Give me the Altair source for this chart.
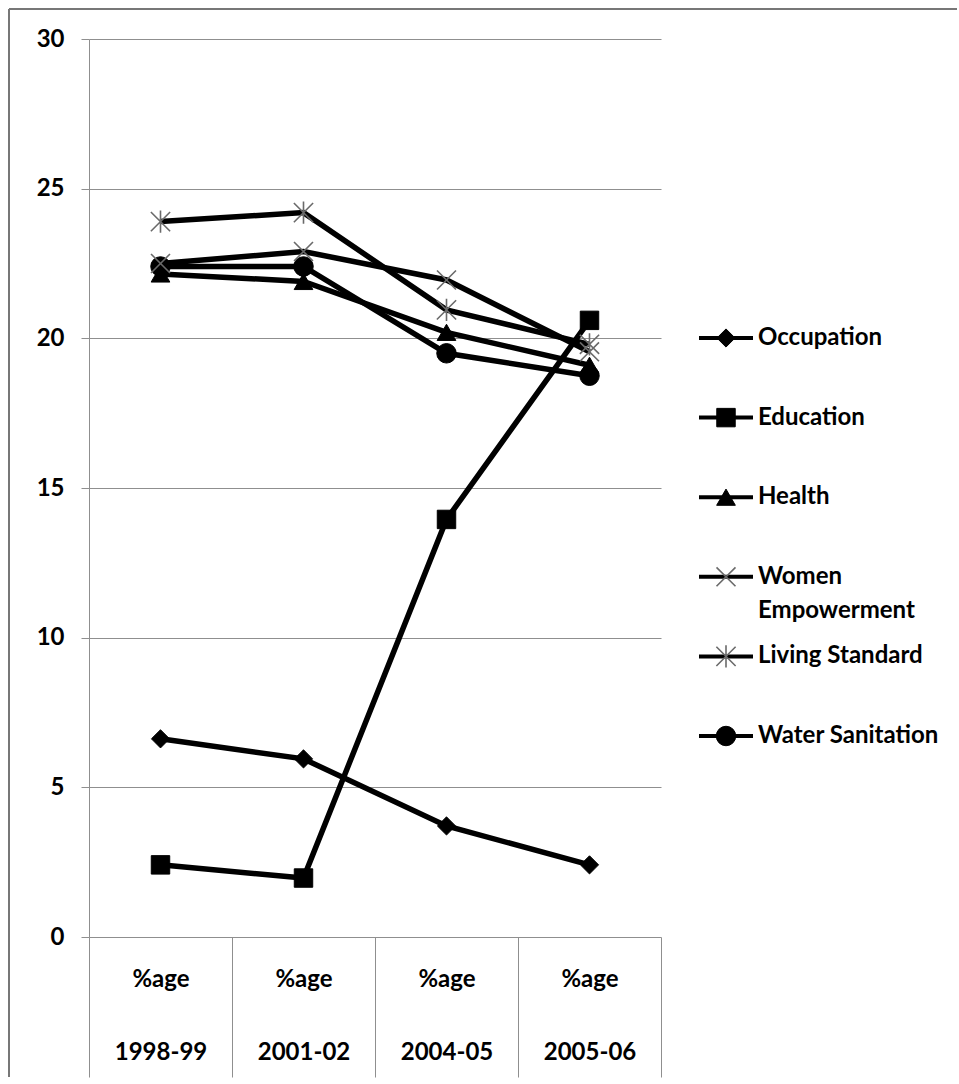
import altair as alt
import pandas as pd

# ---- data ----
periods = ["1998-99", "2001-02", "2004-05", "2005-06"]
series = ["Occupation", "Education", "Health", "Women Empowerment",
          "Living Standard", "Water Sanitation"]
occupation = [6.62, 5.95, 3.71, 2.41]
education = [2.41, 1.97, 13.95, 20.6]
health = [22.15, 21.9, 20.2, 19.1]
women = [22.5, 22.9, 21.95, 19.55]
living = [23.9, 24.2, 20.95, 19.8]
water = [22.4, 22.4, 19.5, 18.75]
legend_labels = ["Occupation", "Education", "Health", "Women|Empowerment",
                 "Living Standard", "Water Sanitation"]
y_ticks = [0, 5, 10, 15, 20, 25, 30]

values = [occupation, education, health, women, living, water]
rows = []
for s, vals in zip(series, values):
    for p, v in zip(periods, vals):
        rows.append({"series": s, "period": p, "value": v})
df = pd.DataFrame(rows)
leg = pd.DataFrame({"series": series, "label": legend_labels})

X_PATH = "M-1,-1L1,1M-1,1L1,-1"
AST_PATH = "M-1,-1L1,1M-1,1L1,-1M0,-1.15L0,1.15"
shape_scale = alt.Scale(domain=series,
                        range=["diamond", "square", "triangle-up", X_PATH, AST_PATH, "circle"])
size_scale = alt.Scale(domain=series, range=[330, 380, 250, 400, 400, 310])
filled_series = ["Occupation", "Education", "Health", "Water Sanitation"]
stroke_series = ["Women Empowerment", "Living Standard"]

FONT = "Lato"
FW = "bold"
GRID = "#8f8f8f"

x_enc = alt.X("period:N", sort=periods,
              scale=alt.Scale(type="band", domain=periods, paddingInner=0, paddingOuter=0),
              axis=alt.Axis(title=None,
                            labelExpr="datum.label ? ['%age', datum.label] : ''",
                            tickBand="extent", tickSize=140, tickColor=GRID, tickWidth=1,
                            labelPadding=-110, labelBaseline="top", labelLineHeight=73,
                            labelFont=FONT, labelFontSize=24, labelFontWeight=FW,
                            labelColor="black", labelAngle=0, domain=False, grid=False))
y_enc = alt.Y("value:Q", scale=alt.Scale(domain=[0, 30], nice=False),
              axis=alt.Axis(title=None, values=y_ticks, tickSize=8, tickColor=GRID,
                            labelPadding=17, labelFont=FONT, labelFontSize=24,
                            labelFontWeight=FW, labelColor="black", domainColor=GRID,
                            gridColor=GRID, gridWidth=1))

base = alt.Chart(df)
lines = base.mark_line(color="black", strokeWidth=5.5).encode(
    x=x_enc, y=y_enc, detail="series:N")
pts_filled = base.transform_filter(
    alt.FieldOneOfPredicate(field="series", oneOf=filled_series)
).mark_point(filled=True, color="black", opacity=1, stroke="black", strokeWidth=1).encode(
    x=x_enc, y=y_enc,
    shape=alt.Shape("series:N", scale=shape_scale, legend=None),
    size=alt.Size("series:N", scale=size_scale, legend=None))
pts_stroke = base.transform_filter(
    alt.FieldOneOfPredicate(field="series", oneOf=stroke_series)
).mark_point(filled=False, color="#6a6a6a", opacity=1, strokeWidth=1.6).encode(
    x=x_enc, y=y_enc,
    shape=alt.Shape("series:N", scale=shape_scale, legend=None),
    size=alt.Size("series:N", scale=size_scale, legend=None))

frame_left = alt.Chart(df).mark_rule(color="#777", strokeWidth=1.5).encode(
    x=alt.value(-80), y=alt.value(-30), y2=alt.value(1038))
frame_top = alt.Chart(df).mark_rule(color="#777", strokeWidth=1.5).encode(
    x=alt.value(-80), x2=alt.value(868), y=alt.value(-30))

main = alt.layer(lines, pts_filled, pts_stroke, frame_left, frame_top).properties(
    width=572, height=898)

# ---- custom legend ----
ly = alt.Y("series:N", sort=series,
           scale=alt.Scale(type="point", domain=series, range=[299, 697], padding=0),
           axis=None)
lbase = alt.Chart(leg)
l_rule = lbase.mark_rule(color="black", strokeWidth=4).encode(
    x=alt.value(18), x2=alt.value(72), y=ly)
l_pf = lbase.transform_filter(
    alt.FieldOneOfPredicate(field="series", oneOf=filled_series)
).mark_point(filled=True, color="black", opacity=1, stroke="black", strokeWidth=1).encode(
    x=alt.value(45), y=ly,
    shape=alt.Shape("series:N", scale=shape_scale, legend=None),
    size=alt.Size("series:N", scale=size_scale, legend=None))
l_ps = lbase.transform_filter(
    alt.FieldOneOfPredicate(field="series", oneOf=stroke_series)
).mark_point(filled=False, color="#6a6a6a", opacity=1, strokeWidth=1.6).encode(
    x=alt.value(45), y=ly,
    shape=alt.Shape("series:N", scale=shape_scale, legend=None),
    size=alt.Size("series:N", scale=size_scale, legend=None))
l_text = lbase.mark_text(align="left", baseline="middle", font=FONT, fontSize=24,
                         fontWeight=FW, color="black", lineBreak="|",
                         lineHeight=34).encode(
    x=alt.value(77), y=ly, text="label:N")
legend = alt.layer(l_rule, l_pf, l_ps, l_text).properties(width=270, height=898)

chart = alt.hconcat(main, legend, spacing=20, bounds="flush").properties(
    padding={"left": 8, "top": 8, "right": 0, "bottom": 0},
    background="white"
).configure_view(stroke="transparent", strokeWidth=0)

chart.save("out.html", embed_options={"renderer": "svg", "actions": False})
